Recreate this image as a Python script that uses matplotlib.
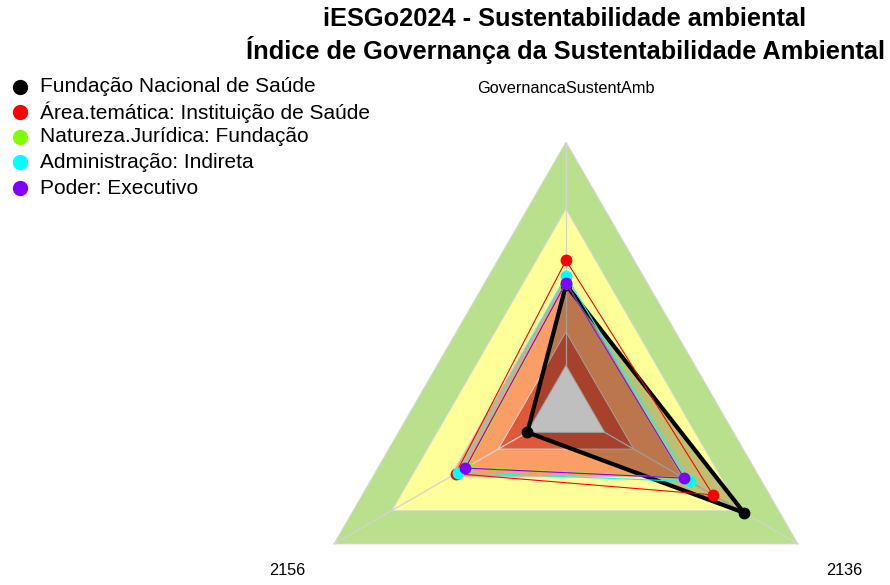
import numpy as np
import matplotlib
matplotlib.use("Agg")
import matplotlib.pyplot as plt

plt.rcParams['font.family'] = ['Liberation Sans', 'DejaVu Sans']

# eixos do radar (ordem do fmsb: topo e depois sentido anti-horario)
eixos = ["GovernancaSustentAmb", "2156", "2136"]

# series (valores 0-1)
nomes = ["Fundação Nacional de Saúde",
         "Área.temática: Instituição de Saúde",
         "Natureza.Jurídica: Fundação",
         "Administração: Indireta",
         "Poder: Executivo"]
cores = ["#000000", "#ff0000", "#80ff00", "#00ffff", "#8000ff"]
fundacao = [0.36, 0.00, 0.72]
area_tematica = [0.47, 0.37, 0.56]
natureza = [0.37, 0.31, 0.41]
administracao = [0.40, 0.36, 0.44]
poder = [0.37, 0.32, 0.41]
series = [fundacao, area_tematica, natureza, administracao, poder]

# faixas de classificacao
faixas = [1.0, 0.7, 0.4, 0.15, 0.0]
cores_faixas = ["#b9e08c", "#ffff99", "#fb9e66", "#e0583a", "#ffffff"]

seg = 5
angulos = np.deg2rad(90 + np.arange(len(eixos)) * 360 / len(eixos))


def raio(v):
    return 1 / (seg + 1) + np.asarray(v) * seg / (seg + 1)


def xy(vals):
    r = raio(vals)
    x = r * np.cos(angulos)
    y = r * np.sin(angulos)
    return np.append(x, x[0]), np.append(y, y[0])


fig = plt.figure(figsize=(8.9, 5.85), dpi=100)
W, H = 890, 585
cx, cy, R = 566, 410, 268
ax = fig.add_axes([(cx - R) / W, (H - cy - R) / H, 2 * R / W, 2 * R / H])
ax.set_xlim(-1, 1)
ax.set_ylim(-1, 1)
ax.axis("off")

for v, c in zip(faixas, cores_faixas):
    x, y = xy([v] * len(eixos))
    ax.fill(x, y, color=c, ec="#d9d9d9", lw=0.7, zorder=1)

r0 = raio(0)
for a in angulos:
    ax.plot([r0 * np.cos(a), np.cos(a)], [r0 * np.sin(a), np.sin(a)],
            color="#d3d3d3", lw=0.9, zorder=2)

for i, (vals, c) in enumerate(zip(series, cores)):
    x, y = xy(vals)
    if i == 0:
        ax.fill(x, y, color="black", alpha=0.25, lw=0, zorder=3)
        ax.plot(x, y, color=c, lw=3, zorder=3)
    else:
        ax.plot(x, y, color=c, lw=0.8, zorder=3 + i)
    ax.plot(x[:-1], y[:-1], "o", color=c, ms=7.5, zorder=3 + i)

for a, nome in zip(angulos, eixos):
    ax.text(1.2 * np.cos(a), 1.2 * np.sin(a), nome, ha="center", va="center",
            fontsize=11.7, clip_on=False)

# sobreposicao em pixels para titulo e legenda
ov = fig.add_axes([0, 0, 1, 1])
ov.set_xlim(0, W)
ov.set_ylim(H, 0)
ov.axis("off")

ov.text(565, 19, "iESGo2024 - Sustentabilidade ambiental", ha="center", va="center",
        fontsize=18.3, fontweight="bold")
ov.text(565, 50, "Índice de Governança da Sustentabilidade Ambiental", ha="center", va="center",
        fontsize=18.3, fontweight="bold")

ys = [87, 112, 137, 162, 188]
for yy, nome, c in zip(ys, nomes, cores):
    ov.plot(20, yy, "o", color=c, ms=10)
    ov.text(40, yy, nome, ha="left", va="center", fontsize=15)

fig.savefig("out.png", dpi=100)
